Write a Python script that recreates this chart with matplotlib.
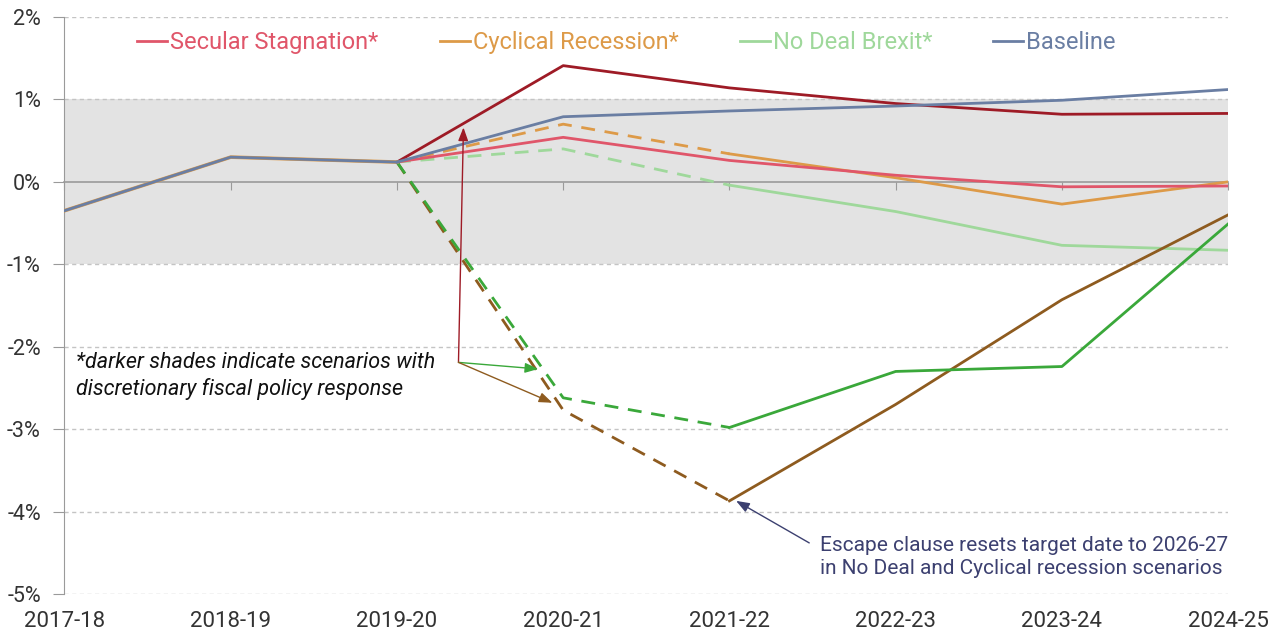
import matplotlib
matplotlib.use("Agg")
import matplotlib.pyplot as plt
from matplotlib.lines import Line2D
from matplotlib.ticker import FuncFormatter

plt.rcParams['font.family'] = ['Roboto', 'DejaVu Sans']

# Data (per cent of GDP)
years = ['2017-18', '2018-19', '2019-20', '2020-21', '2021-22', '2022-23', '2023-24', '2024-25']
common = [-0.35, 0.30, 0.24]            # shared outturn up to 2019-20
baseline = [-0.35, 0.30, 0.24, 0.79, 0.86, 0.92, 0.99, 1.12]
secular = [-0.35, 0.30, 0.24, 0.54, 0.26, 0.08, -0.06, -0.05]
secular_fiscal = [-0.35, 0.30, 0.24, 1.41, 1.14, 0.95, 0.82, 0.83]
cyclical = [-0.35, 0.30, 0.24, 0.70, 0.34, 0.05, -0.27, 0.00]
cyclical_fiscal = [-0.35, 0.30, 0.24, -2.77, -3.87, -2.70, -1.43, -0.40]
nodeal = [-0.35, 0.30, 0.24, 0.40, -0.04, -0.36, -0.77, -0.83]
nodeal_fiscal = [-0.35, 0.30, 0.24, -2.62, -2.98, -2.30, -2.24, -0.51]

c_base = '#6a7ea3'
c_sec = '#e0566a'
c_sec_d = '#9e1b26'
c_cyc = '#dd9a48'
c_cyc_d = '#8e5b1f'
c_nd = '#9fd89b'
c_nd_d = '#3aa83a'
c_grid = '#c4c4c4'
c_axis = '#9a9a9a'

fig = plt.figure(figsize=(12.82, 6.39), dpi=100)
ax = fig.add_axes([0.0503, 0.0704, 0.9077, 0.903])
x = list(range(len(years)))

# target band
ax.axhspan(-1, 1, color='#e3e3e3', zorder=0, lw=0)
for yv in [2, 1, -1, -2, -3, -4, -5]:
    ax.axhline(yv, color=c_grid, lw=1, ls=(0, (3, 2.5)), zorder=1)

lw = 2.0
dash = (0, (5, 3.5))


def draw(vals, color, dashed_to=None, z=3):
    # split at the point where the series turns from dashed to solid
    if dashed_to is None:
        ax.plot(x[2:], vals[2:], color=color, lw=lw, zorder=z)
    else:
        ax.plot(x[2:dashed_to + 1], vals[2:dashed_to + 1], color=color, lw=lw, ls=dash, zorder=z)
        ax.plot(x[dashed_to:], vals[dashed_to:], color=color, lw=lw, zorder=z)


draw(nodeal, c_nd, dashed_to=4)
draw(cyclical, c_cyc, dashed_to=4)
draw(secular, c_sec)
draw(cyclical_fiscal, c_cyc_d, dashed_to=4)
draw(nodeal_fiscal, c_nd_d, dashed_to=4)
draw(secular_fiscal, c_sec_d)
draw(baseline, c_base, z=4)
ax.plot(x[:3], common, color=c_cyc, lw=lw + 0.6, zorder=3)
ax.plot(x[:3], common, color=c_base, lw=lw, zorder=4)

ax.set_xlim(0, 7)
ax.set_ylim(-5, 2)
ax.set_yticks([2, 1, 0, -1, -2, -3, -4, -5])
ax.yaxis.set_major_formatter(FuncFormatter(lambda v, p: f'{v:.0f}%'))
ax.tick_params(axis='y', length=8, color=c_axis, labelsize=15.5, labelcolor='#333333', pad=9)

for s in ['top', 'right']:
    ax.spines[s].set_visible(False)
ax.spines['left'].set_color(c_axis)
ax.spines['bottom'].set_position(('data', 0))
ax.spines['bottom'].set_color(c_axis)
ax.spines['bottom'].set_linewidth(1.2)
ax.set_xticks(x)
ax.tick_params(axis='x', direction='out', length=6, color=c_axis, labelbottom=False)

sec = ax.secondary_xaxis('bottom')
sec.set_xticks(x, years)
sec.spines['bottom'].set_visible(False)
sec.tick_params(length=0, labelsize=16, labelcolor='#333333', pad=12)

# legend
handles = [Line2D([], [], color=c, lw=2) for c in [c_sec, c_cyc, c_nd, c_base]]
labels = ['Secular Stagnation*', 'Cyclical Recession*', 'No Deal Brexit*', 'Baseline']
leg = ax.legend(handles, labels, ncol=4, loc='center', bbox_to_anchor=(0.483, 0.955),
                frameon=False, handlelength=1.27, handletextpad=0.12, columnspacing=2.6,
                fontsize=17)
for t, c in zip(leg.get_texts(), [c_sec, c_cyc, c_nd, c_base]):
    t.set_color(c)

# annotations
ax.text(0.07, -2.36, '*darker shades indicate scenarios with\ndiscretionary fiscal policy response',
        fontsize=15.5, style='italic', color='#111111', va='center', linespacing=1.3)
tail = (2.37, -2.19)
for tip, c in [((2.40, 0.66), c_sec_d), ((2.85, -2.27), c_nd_d), ((2.935, -2.68), c_cyc_d)]:
    ax.annotate('', xy=tip, xytext=tail,
                arrowprops=dict(arrowstyle='-|>,head_length=0.8,head_width=0.3', color=c, lw=1,
                                shrinkA=0, shrinkB=0), zorder=6)

ax.annotate('', xy=(4.04, -3.87), xytext=(4.48, -4.38),
            arrowprops=dict(arrowstyle='-|>,head_length=0.8,head_width=0.3', color='#3c4070', lw=1,
                            shrinkA=0, shrinkB=0), zorder=6)
ax.text(4.545, -4.55, 'Escape clause resets target date to 2026-27\nin No Deal and Cyclical recession scenarios',
        fontsize=15, color='#3c4070', va='center', linespacing=1.28)

fig.savefig('out.png', dpi=100)
